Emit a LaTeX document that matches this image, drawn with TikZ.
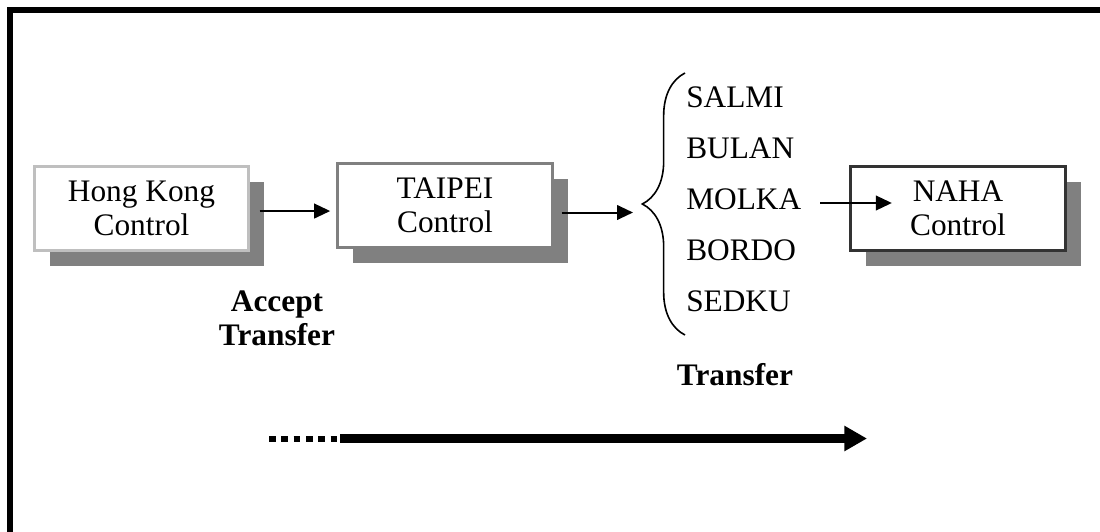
\documentclass[tikz,border=0pt]{standalone}
\usepackage{fontspec}
\setmainfont{Liberation Serif}
\usetikzlibrary{arrows.meta,shadows,decorations.pathreplacing}

\begin{document}
\begin{tikzpicture}[x=0.75pt,y=-0.75pt,
  every node/.style={font=\fontsize{23.5}{25.5}\selectfont},
  ctrl/.style={fill=white, line width=2.25pt, minimum width=161pt, minimum height=63pt,
    align=center, inner sep=0pt,
    drop shadow={shadow xshift=11.5pt, shadow yshift=-11.5pt, fill=black!50, opacity=1}},
  flow/.style={line width=1.5pt, -{Triangle[length=12pt,width=11pt]}},
  label/.style={font=\fontsize{23.5}{25.5}\selectfont\bfseries, align=center}]
\useasboundingbox (0,0) rectangle (1100,532);

% frame
\draw[line width=4.5pt] (10,545) -- (10,10) -- (1115,10);

% control boxes
\node[ctrl, draw=black!25] (hk) at (141.5,208.5) {Hong Kong\\Control};
\node[ctrl, draw=black!50] (tp) at (445,205.5) {TAIPEI\\Control};
\node[ctrl, draw=black!80] (naha) at (958,208.5) {NAHA\\Control};

% fixes
\foreach \name [count=\i] in {SALMI,BULAN,MOLKA,BORDO,SEDKU}
  \node[anchor=west, inner sep=0pt] (\name) at (686,46+51*\i) {\name};

\coordinate (tip) at (642,204);
\draw[line width=1.2pt, decorate, decoration={brace, amplitude=32pt}] (685,335) -- (685,73);

\node[label] (accept) at (277,318) {Accept\\Transfer};
\node[label] (transfer) at (735,375) {Transfer};

% handoff arrows
\draw[flow] ([xshift=7pt,yshift=-1.9pt]hk.east) -- ([xshift=-4.5pt,yshift=-1.9pt]hk.east -| tp.west);
\draw[flow] ([xshift=6pt,yshift=-5.25pt]tp.east) -- ([xshift=-6.75pt,yshift=-5.25pt]tp.east -| tip);
\draw[flow] ([xshift=14pt,yshift=-3pt]MOLKA.east) -- ([xshift=32pt,yshift=-3pt]MOLKA.east -| naha.west);

% time line
\coordinate (dotL) at (269,439);
\coordinate (dotR) at (337,439);
\coordinate (lineL) at (340,438.5);
\coordinate (lineR) at (867,438.5);
\draw[line width=4.9pt, dash pattern=on 4.9pt off 4.35pt] (dotL) -- (dotR);
\draw[line width=6.75pt, -{Triangle[length=17pt,width=18pt]}] (lineL) -- (lineR);

\end{tikzpicture}
\end{document}
